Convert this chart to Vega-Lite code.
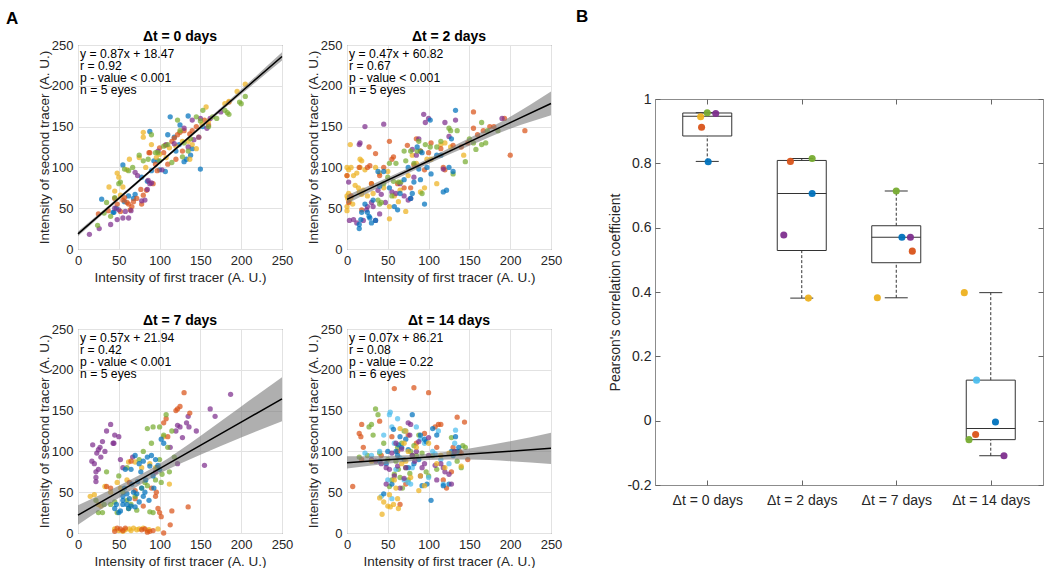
{
"$schema":"https://vega.github.io/schema/vega-lite/v6.json",
"padding":{"left":6,"top":7,"right":0,"bottom":0},
"config":{
 "font":"Liberation Sans",
 "view":{"stroke":"#595959","strokeWidth":1},
 "axis":{"labelFont":"Liberation Sans","labelFontSize":13,"labelColor":"#262626","titleFont":"Liberation Sans","titleFontSize":13.5,"titleFontWeight":"normal","titleColor":"#262626","domain":false,"ticks":false,"labelPadding":5,"titlePadding":3,"gridColor":"#e2e2e2","gridWidth":1,"labelFlush":false},
 "axisY":{"titlePadding":0},
 "title":{"font":"Liberation Sans","fontSize":14,"fontWeight":"bold","color":"#000000","offset":-5,"frame":"group"}
},
"datasets":{
"d0":[
{"x":29,"y":61,"eye":1},{"x":43,"y":45,"eye":1},{"x":44,"y":45,"eye":1},{"x":55,"y":103,"eye":1},{"x":62,"y":65,"eye":1},{"x":70,"y":67,"eye":1},{"x":78,"y":88,"eye":1},{"x":85,"y":83,"eye":1},{"x":88,"y":144,"eye":1},{"x":90,"y":96,"eye":1},{"x":93,"y":108,"eye":1},{"x":98,"y":108,"eye":1},{"x":100,"y":97,"eye":1},{"x":107,"y":95,"eye":1},{"x":110,"y":140,"eye":1},{"x":113,"y":162,"eye":1},{"x":118,"y":137,"eye":1},{"x":120,"y":120,"eye":1},{"x":124,"y":128,"eye":1},{"x":125,"y":152,"eye":1},{"x":130,"y":107,"eye":1},{"x":133,"y":110,"eye":1},{"x":135,"y":163,"eye":1},{"x":138,"y":115,"eye":1},{"x":140,"y":123,"eye":1},{"x":150,"y":98,"eye":1},{"x":153,"y":150,"eye":1},{"x":57,"y":58,"eye":1},{"x":47,"y":50,"eye":1},{"x":68,"y":62,"eye":1},
{"x":25,"y":43,"eye":2},{"x":37,"y":47,"eye":2},{"x":45,"y":62,"eye":2},{"x":48,"y":55,"eye":2},{"x":52,"y":46,"eye":2},{"x":55,"y":60,"eye":2},{"x":57,"y":63,"eye":2},{"x":60,"y":57,"eye":2},{"x":62,"y":55,"eye":2},{"x":64,"y":48,"eye":2},{"x":66,"y":52,"eye":2},{"x":68,"y":58,"eye":2},{"x":72,"y":62,"eye":2},{"x":77,"y":73,"eye":2},{"x":78,"y":55,"eye":2},{"x":80,"y":66,"eye":2},{"x":84,"y":72,"eye":2},{"x":87,"y":118,"eye":2},{"x":88,"y":118,"eye":2},{"x":92,"y":80,"eye":2},{"x":95,"y":104,"eye":2},{"x":97,"y":96,"eye":2},{"x":100,"y":124,"eye":2},{"x":105,"y":118,"eye":2},{"x":107,"y":127,"eye":2},{"x":110,"y":104,"eye":2},{"x":115,"y":132,"eye":2},{"x":118,"y":136,"eye":2},{"x":120,"y":110,"eye":2},{"x":122,"y":140,"eye":2},{"x":125,"y":143,"eye":2},{"x":128,"y":120,"eye":2},{"x":130,"y":145,"eye":2},{"x":137,"y":141,"eye":2},{"x":140,"y":145,"eye":2},{"x":145,"y":150,"eye":2},{"x":155,"y":158,"eye":2},{"x":160,"y":152,"eye":2},{"x":185,"y":180,"eye":2},
{"x":38,"y":76,"eye":3},{"x":45,"y":71,"eye":3},{"x":48,"y":93,"eye":3},{"x":50,"y":88,"eye":3},{"x":52,"y":66,"eye":3},{"x":55,"y":76,"eye":3},{"x":60,"y":97,"eye":3},{"x":63,"y":110,"eye":3},{"x":75,"y":112,"eye":3},{"x":80,"y":143,"eye":3},{"x":80,"y":137,"eye":3},{"x":83,"y":100,"eye":3},{"x":90,"y":128,"eye":3},{"x":96,"y":112,"eye":3},{"x":100,"y":116,"eye":3},{"x":108,"y":112,"eye":3},{"x":112,"y":124,"eye":3},{"x":120,"y":126,"eye":3},{"x":128,"y":132,"eye":3},{"x":135,"y":132,"eye":3},{"x":137,"y":110,"eye":3},{"x":140,"y":128,"eye":3},{"x":145,"y":123,"eye":3},{"x":148,"y":137,"eye":3},{"x":152,"y":153,"eye":3},{"x":157,"y":174,"eye":3},{"x":160,"y":157,"eye":3},{"x":180,"y":178,"eye":3},{"x":185,"y":181,"eye":3},{"x":195,"y":193,"eye":3},{"x":205,"y":202,"eye":3},
{"x":14,"y":18,"eye":4},{"x":26,"y":25,"eye":4},{"x":40,"y":30,"eye":4},{"x":45,"y":50,"eye":4},{"x":48,"y":36,"eye":4},{"x":50,"y":48,"eye":4},{"x":55,"y":38,"eye":4},{"x":58,"y":46,"eye":4},{"x":62,"y":38,"eye":4},{"x":65,"y":47,"eye":4},{"x":70,"y":94,"eye":4},{"x":73,"y":90,"eye":4},{"x":78,"y":59,"eye":4},{"x":82,"y":60,"eye":4},{"x":85,"y":73,"eye":4},{"x":86,"y":84,"eye":4},{"x":88,"y":80,"eye":4},{"x":90,"y":81,"eye":4},{"x":98,"y":120,"eye":4},{"x":103,"y":97,"eye":4},{"x":108,"y":128,"eye":4},{"x":118,"y":129,"eye":4},{"x":130,"y":148,"eye":4},{"x":135,"y":125,"eye":4},{"x":140,"y":158,"eye":4},{"x":142,"y":134,"eye":4},{"x":148,"y":137,"eye":4},{"x":150,"y":160,"eye":4},{"x":158,"y":148,"eye":4},{"x":162,"y":160,"eye":4},{"x":175,"y":168,"eye":4},
{"x":24,"y":29,"eye":5},{"x":32,"y":44,"eye":5},{"x":35,"y":57,"eye":5},{"x":40,"y":40,"eye":5},{"x":45,"y":63,"eye":5},{"x":50,"y":80,"eye":5},{"x":52,"y":82,"eye":5},{"x":57,"y":98,"eye":5},{"x":62,"y":96,"eye":5},{"x":67,"y":100,"eye":5},{"x":75,"y":115,"eye":5},{"x":80,"y":108,"eye":5},{"x":86,"y":110,"eye":5},{"x":90,"y":140,"eye":5},{"x":95,"y":118,"eye":5},{"x":98,"y":118,"eye":5},{"x":100,"y":108,"eye":5},{"x":105,"y":126,"eye":5},{"x":110,"y":128,"eye":5},{"x":115,"y":106,"eye":5},{"x":122,"y":158,"eye":5},{"x":125,"y":145,"eye":5},{"x":128,"y":113,"eye":5},{"x":130,"y":130,"eye":5},{"x":135,"y":120,"eye":5},{"x":138,"y":135,"eye":5},{"x":145,"y":162,"eye":5},{"x":150,"y":157,"eye":5},{"x":153,"y":170,"eye":5},{"x":160,"y":150,"eye":5},{"x":165,"y":162,"eye":5},{"x":170,"y":160,"eye":5},{"x":180,"y":170,"eye":5},{"x":183,"y":167,"eye":5},{"x":185,"y":165,"eye":5},{"x":198,"y":180,"eye":5},{"x":205,"y":187,"eye":5},{"x":200,"y":178,"eye":5}
],
"d2":[
{"x":0,"y":47,"eye":3},{"x":0,"y":52,"eye":3},{"x":1,"y":62,"eye":3},{"x":0,"y":65,"eye":3},{"x":2,"y":68,"eye":3},{"x":0,"y":90,"eye":3},{"x":0,"y":100,"eye":3},{"x":2,"y":97,"eye":3},{"x":3,"y":58,"eye":3},{"x":4,"y":128,"eye":3},{"x":5,"y":100,"eye":3},{"x":5,"y":63,"eye":3},{"x":7,"y":55,"eye":3},{"x":8,"y":90,"eye":3},{"x":10,"y":78,"eye":3},{"x":12,"y":93,"eye":3},{"x":14,"y":75,"eye":3},{"x":15,"y":70,"eye":3},{"x":16,"y":110,"eye":3},{"x":16,"y":100,"eye":3},{"x":18,"y":108,"eye":3},{"x":18,"y":67,"eye":3},{"x":20,"y":72,"eye":3},{"x":22,"y":97,"eye":3},{"x":25,"y":65,"eye":3},{"x":30,"y":80,"eye":3},{"x":32,"y":68,"eye":3},{"x":35,"y":100,"eye":3},{"x":40,"y":93,"eye":3},{"x":45,"y":75,"eye":3},{"x":50,"y":95,"eye":3},{"x":52,"y":52,"eye":3},{"x":52,"y":37,"eye":3},{"x":58,"y":65,"eye":3},{"x":63,"y":58,"eye":3},{"x":65,"y":72,"eye":3},{"x":72,"y":46,"eye":3},{"x":75,"y":90,"eye":3},{"x":80,"y":115,"eye":3},{"x":85,"y":105,"eye":3},{"x":90,"y":70,"eye":3},{"x":95,"y":75,"eye":3},{"x":98,"y":110,"eye":3},{"x":103,"y":110,"eye":3},{"x":110,"y":80,"eye":3},{"x":115,"y":128,"eye":3},{"x":120,"y":130,"eye":3},{"x":127,"y":125,"eye":3},{"x":143,"y":115,"eye":3},
{"x":0,"y":90,"eye":2},{"x":2,"y":57,"eye":2},{"x":5,"y":65,"eye":2},{"x":15,"y":100,"eye":2},{"x":18,"y":48,"eye":2},{"x":25,"y":100,"eye":2},{"x":27,"y":125,"eye":2},{"x":28,"y":102,"eye":2},{"x":30,"y":80,"eye":2},{"x":35,"y":117,"eye":2},{"x":40,"y":90,"eye":2},{"x":45,"y":100,"eye":2},{"x":52,"y":132,"eye":2},{"x":55,"y":110,"eye":2},{"x":57,"y":113,"eye":2},{"x":62,"y":80,"eye":2},{"x":70,"y":75,"eye":2},{"x":74,"y":127,"eye":2},{"x":78,"y":75,"eye":2},{"x":82,"y":103,"eye":2},{"x":85,"y":135,"eye":2},{"x":90,"y":120,"eye":2},{"x":95,"y":97,"eye":2},{"x":100,"y":118,"eye":2},{"x":103,"y":130,"eye":2},{"x":115,"y":123,"eye":2},{"x":118,"y":100,"eye":2},{"x":120,"y":97,"eye":2},{"x":130,"y":127,"eye":2},{"x":140,"y":125,"eye":2},{"x":148,"y":130,"eye":2},{"x":155,"y":168,"eye":2},{"x":155,"y":148,"eye":2},{"x":160,"y":140,"eye":2},{"x":167,"y":145,"eye":2},{"x":175,"y":150,"eye":2},{"x":193,"y":160,"eye":2},{"x":200,"y":115,"eye":2},{"x":218,"y":145,"eye":2},{"x":180,"y":150,"eye":2},
{"x":2,"y":82,"eye":4},{"x":3,"y":35,"eye":4},{"x":8,"y":36,"eye":4},{"x":12,"y":32,"eye":4},{"x":15,"y":128,"eye":4},{"x":16,"y":130,"eye":4},{"x":20,"y":35,"eye":4},{"x":22,"y":150,"eye":4},{"x":24,"y":48,"eye":4},{"x":25,"y":52,"eye":4},{"x":30,"y":57,"eye":4},{"x":32,"y":52,"eye":4},{"x":35,"y":35,"eye":4},{"x":38,"y":72,"eye":4},{"x":40,"y":43,"eye":4},{"x":42,"y":67,"eye":4},{"x":45,"y":153,"eye":4},{"x":47,"y":57,"eye":4},{"x":55,"y":70,"eye":4},{"x":60,"y":68,"eye":4},{"x":65,"y":80,"eye":4},{"x":70,"y":65,"eye":4},{"x":75,"y":60,"eye":4},{"x":78,"y":62,"eye":4},{"x":80,"y":122,"eye":4},{"x":82,"y":88,"eye":4},{"x":85,"y":115,"eye":4},{"x":88,"y":135,"eye":4},{"x":90,"y":120,"eye":4},{"x":94,"y":165,"eye":4},{"x":96,"y":155,"eye":4},{"x":100,"y":160,"eye":4},{"x":118,"y":98,"eye":4},{"x":120,"y":155,"eye":4},{"x":125,"y":138,"eye":4},{"x":133,"y":158,"eye":4},{"x":190,"y":160,"eye":4},
{"x":38,"y":60,"eye":5},{"x":40,"y":55,"eye":5},{"x":42,"y":57,"eye":5},{"x":45,"y":80,"eye":5},{"x":50,"y":88,"eye":5},{"x":52,"y":105,"eye":5},{"x":55,"y":65,"eye":5},{"x":57,"y":83,"eye":5},{"x":60,"y":105,"eye":5},{"x":63,"y":82,"eye":5},{"x":66,"y":82,"eye":5},{"x":70,"y":120,"eye":5},{"x":72,"y":108,"eye":5},{"x":78,"y":120,"eye":5},{"x":82,"y":105,"eye":5},{"x":86,"y":120,"eye":5},{"x":88,"y":132,"eye":5},{"x":90,"y":120,"eye":5},{"x":92,"y":68,"eye":5},{"x":96,"y":128,"eye":5},{"x":102,"y":125,"eye":5},{"x":110,"y":125,"eye":5},{"x":115,"y":132,"eye":5},{"x":125,"y":148,"eye":5},{"x":127,"y":145,"eye":5},{"x":130,"y":92,"eye":5},{"x":135,"y":145,"eye":5},{"x":145,"y":107,"eye":5},{"x":150,"y":135,"eye":5},{"x":155,"y":130,"eye":5},{"x":158,"y":122,"eye":5},{"x":165,"y":155,"eye":5},{"x":165,"y":128,"eye":5},{"x":170,"y":130,"eye":5},{"x":172,"y":145,"eye":5},{"x":185,"y":145,"eye":5},
{"x":15,"y":25,"eye":1},{"x":15,"y":30,"eye":1},{"x":17,"y":36,"eye":1},{"x":18,"y":45,"eye":1},{"x":22,"y":55,"eye":1},{"x":25,"y":45,"eye":1},{"x":27,"y":40,"eye":1},{"x":28,"y":38,"eye":1},{"x":30,"y":32,"eye":1},{"x":32,"y":60,"eye":1},{"x":35,"y":35,"eye":1},{"x":38,"y":95,"eye":1},{"x":40,"y":77,"eye":1},{"x":45,"y":95,"eye":1},{"x":52,"y":75,"eye":1},{"x":58,"y":52,"eye":1},{"x":62,"y":48,"eye":1},{"x":65,"y":68,"eye":1},{"x":70,"y":85,"eye":1},{"x":75,"y":100,"eye":1},{"x":78,"y":62,"eye":1},{"x":80,"y":68,"eye":1},{"x":82,"y":82,"eye":1},{"x":86,"y":125,"eye":1},{"x":88,"y":98,"eye":1},{"x":90,"y":85,"eye":1},{"x":92,"y":118,"eye":1},{"x":95,"y":55,"eye":1},{"x":98,"y":100,"eye":1},{"x":102,"y":158,"eye":1},{"x":103,"y":92,"eye":1},{"x":110,"y":115,"eye":1},{"x":115,"y":115,"eye":1},{"x":118,"y":70,"eye":1},{"x":122,"y":72,"eye":1},{"x":125,"y":100,"eye":1},{"x":130,"y":95,"eye":1},{"x":133,"y":170,"eye":1},{"x":128,"y":135,"eye":1}
],
"d7":[
{"x":17,"y":88,"eye":4},{"x":18,"y":108,"eye":4},{"x":20,"y":85,"eye":4},{"x":22,"y":75,"eye":4},{"x":22,"y":68,"eye":4},{"x":22,"y":63,"eye":4},{"x":23,"y":98,"eye":4},{"x":25,"y":102,"eye":4},{"x":25,"y":78,"eye":4},{"x":27,"y":105,"eye":4},{"x":28,"y":93,"eye":4},{"x":30,"y":112,"eye":4},{"x":33,"y":100,"eye":4},{"x":35,"y":125,"eye":4},{"x":40,"y":133,"eye":4},{"x":43,"y":110,"eye":4},{"x":44,"y":110,"eye":4},{"x":45,"y":120,"eye":4},{"x":50,"y":118,"eye":4},{"x":52,"y":90,"eye":4},{"x":55,"y":80,"eye":4},{"x":67,"y":93,"eye":4},{"x":95,"y":75,"eye":4},{"x":113,"y":105,"eye":4},{"x":120,"y":125,"eye":4},{"x":122,"y":132,"eye":4},{"x":125,"y":130,"eye":4},{"x":128,"y":117,"eye":4},{"x":122,"y":85,"eye":4},{"x":133,"y":135,"eye":4},{"x":135,"y":143,"eye":4},{"x":136,"y":130,"eye":4},{"x":145,"y":125,"eye":4},{"x":155,"y":83,"eye":4},{"x":162,"y":152,"eye":4},{"x":168,"y":143,"eye":4},{"x":187,"y":170,"eye":4},
{"x":15,"y":45,"eye":3},{"x":20,"y":47,"eye":3},{"x":25,"y":35,"eye":3},{"x":28,"y":33,"eye":3},{"x":33,"y":57,"eye":3},{"x":40,"y":50,"eye":3},{"x":45,"y":5,"eye":3},{"x":48,"y":62,"eye":3},{"x":50,"y":3,"eye":3},{"x":52,"y":55,"eye":3},{"x":55,"y":2,"eye":3},{"x":58,"y":4,"eye":3},{"x":60,"y":65,"eye":3},{"x":62,"y":87,"eye":3},{"x":63,"y":5,"eye":3},{"x":65,"y":3,"eye":3},{"x":68,"y":6,"eye":3},{"x":70,"y":87,"eye":3},{"x":72,"y":4,"eye":3},{"x":75,"y":5,"eye":3},{"x":78,"y":80,"eye":3},{"x":80,"y":6,"eye":3},{"x":85,"y":3,"eye":3},{"x":87,"y":4,"eye":3},{"x":88,"y":85,"eye":3},{"x":95,"y":80,"eye":3},{"x":98,"y":5,"eye":3},{"x":105,"y":118,"eye":3},{"x":112,"y":60,"eye":3},
{"x":35,"y":57,"eye":2},{"x":40,"y":55,"eye":2},{"x":45,"y":2,"eye":2},{"x":48,"y":6,"eye":2},{"x":52,"y":5,"eye":2},{"x":55,"y":3,"eye":2},{"x":58,"y":6,"eye":2},{"x":63,"y":62,"eye":2},{"x":65,"y":88,"eye":2},{"x":70,"y":42,"eye":2},{"x":78,"y":4,"eye":2},{"x":80,"y":33,"eye":2},{"x":82,"y":5,"eye":2},{"x":85,"y":1,"eye":2},{"x":88,"y":2,"eye":2},{"x":90,"y":55,"eye":2},{"x":92,"y":3,"eye":2},{"x":95,"y":45,"eye":2},{"x":96,"y":50,"eye":2},{"x":98,"y":30,"eye":2},{"x":100,"y":25,"eye":2},{"x":102,"y":20,"eye":2},{"x":105,"y":135,"eye":2},{"x":108,"y":140,"eye":2},{"x":110,"y":118,"eye":2},{"x":113,"y":10,"eye":2},{"x":115,"y":27,"eye":2},{"x":105,"y":0,"eye":2},{"x":120,"y":150,"eye":2},{"x":122,"y":152,"eye":2},{"x":125,"y":155,"eye":2},{"x":130,"y":172,"eye":2},{"x":137,"y":147,"eye":2},{"x":135,"y":32,"eye":2},{"x":70,"y":52,"eye":2},
{"x":22,"y":40,"eye":5},{"x":25,"y":25,"eye":5},{"x":30,"y":25,"eye":5},{"x":32,"y":35,"eye":5},{"x":35,"y":75,"eye":5},{"x":40,"y":35,"eye":5},{"x":45,"y":38,"eye":5},{"x":48,"y":25,"eye":5},{"x":50,"y":70,"eye":5},{"x":55,"y":50,"eye":5},{"x":60,"y":80,"eye":5},{"x":62,"y":30,"eye":5},{"x":65,"y":35,"eye":5},{"x":70,"y":45,"eye":5},{"x":72,"y":28,"eye":5},{"x":75,"y":90,"eye":5},{"x":78,"y":55,"eye":5},{"x":80,"y":100,"eye":5},{"x":82,"y":62,"eye":5},{"x":85,"y":128,"eye":5},{"x":85,"y":58,"eye":5},{"x":88,"y":26,"eye":5},{"x":90,"y":110,"eye":5},{"x":92,"y":130,"eye":5},{"x":95,"y":65,"eye":5},{"x":97,"y":80,"eye":5},{"x":100,"y":130,"eye":5},{"x":102,"y":62,"eye":5},{"x":103,"y":72,"eye":5},{"x":105,"y":120,"eye":5},{"x":108,"y":145,"eye":5},{"x":110,"y":105,"eye":5},{"x":112,"y":75,"eye":5},{"x":115,"y":125,"eye":5},{"x":118,"y":93,"eye":5},{"x":100,"y":90,"eye":5},{"x":92,"y":25,"eye":5},{"x":60,"y":40,"eye":5},
{"x":45,"y":30,"eye":1},{"x":47,"y":35,"eye":1},{"x":50,"y":25,"eye":1},{"x":52,"y":27,"eye":1},{"x":55,"y":35,"eye":1},{"x":55,"y":40,"eye":1},{"x":57,"y":55,"eye":1},{"x":58,"y":78,"eye":1},{"x":60,"y":35,"eye":1},{"x":62,"y":30,"eye":1},{"x":63,"y":42,"eye":1},{"x":65,"y":33,"eye":1},{"x":66,"y":60,"eye":1},{"x":68,"y":50,"eye":1},{"x":70,"y":95,"eye":1},{"x":70,"y":32,"eye":1},{"x":72,"y":48,"eye":1},{"x":73,"y":63,"eye":1},{"x":75,"y":85,"eye":1},{"x":77,"y":75,"eye":1},{"x":78,"y":55,"eye":1},{"x":80,"y":88,"eye":1},{"x":82,"y":50,"eye":1},{"x":83,"y":65,"eye":1},{"x":85,"y":93,"eye":1},{"x":87,"y":40,"eye":1},{"x":88,"y":82,"eye":1},{"x":90,"y":95,"eye":1},{"x":92,"y":70,"eye":1},{"x":93,"y":55,"eye":1},{"x":95,"y":90,"eye":1},{"x":98,"y":83,"eye":1},{"x":100,"y":78,"eye":1},{"x":102,"y":115,"eye":1},{"x":105,"y":110,"eye":1},{"x":60,"y":48,"eye":1},{"x":80,"y":45,"eye":1},{"x":75,"y":38,"eye":1},{"x":65,"y":78,"eye":1},{"x":55,"y":45,"eye":1}
],
"d14":[
{"x":7,"y":57,"eye":2},{"x":15,"y":122,"eye":2},{"x":17,"y":118,"eye":2},{"x":18,"y":90,"eye":2},{"x":18,"y":133,"eye":2},{"x":20,"y":105,"eye":2},{"x":40,"y":137,"eye":2},{"x":42,"y":95,"eye":2},{"x":55,"y":118,"eye":2},{"x":58,"y":177,"eye":2},{"x":62,"y":100,"eye":2},{"x":75,"y":120,"eye":2},{"x":82,"y":178,"eye":2},{"x":85,"y":110,"eye":2},{"x":95,"y":122,"eye":2},{"x":100,"y":172,"eye":2},{"x":108,"y":130,"eye":2},{"x":110,"y":105,"eye":2},{"x":112,"y":133,"eye":2},{"x":115,"y":133,"eye":2},{"x":118,"y":65,"eye":2},{"x":122,"y":55,"eye":2},{"x":128,"y":75,"eye":2},{"x":135,"y":142,"eye":2},{"x":138,"y":100,"eye":2},{"x":140,"y":98,"eye":2},{"x":144,"y":136,"eye":2},{"x":148,"y":90,"eye":2},{"x":130,"y":105,"eye":2},{"x":72,"y":60,"eye":2},{"x":65,"y":35,"eye":2},
{"x":15,"y":93,"eye":5},{"x":25,"y":95,"eye":5},{"x":27,"y":130,"eye":5},{"x":30,"y":133,"eye":5},{"x":32,"y":120,"eye":5},{"x":35,"y":152,"eye":5},{"x":38,"y":145,"eye":5},{"x":40,"y":98,"eye":5},{"x":45,"y":110,"eye":5},{"x":50,"y":90,"eye":5},{"x":52,"y":57,"eye":5},{"x":55,"y":65,"eye":5},{"x":58,"y":72,"eye":5},{"x":60,"y":88,"eye":5},{"x":62,"y":105,"eye":5},{"x":63,"y":78,"eye":5},{"x":65,"y":68,"eye":5},{"x":67,"y":110,"eye":5},{"x":70,"y":125,"eye":5},{"x":72,"y":80,"eye":5},{"x":75,"y":65,"eye":5},{"x":78,"y":100,"eye":5},{"x":80,"y":95,"eye":5},{"x":82,"y":107,"eye":5},{"x":85,"y":95,"eye":5},{"x":88,"y":120,"eye":5},{"x":92,"y":98,"eye":5},{"x":97,"y":75,"eye":5},{"x":100,"y":70,"eye":5},{"x":105,"y":95,"eye":5},{"x":110,"y":78,"eye":5},{"x":128,"y":117,"eye":5},{"x":132,"y":100,"eye":5},{"x":135,"y":88,"eye":5},{"x":140,"y":80,"eye":5},{"x":142,"y":107,"eye":5},{"x":145,"y":105,"eye":5},{"x":77,"y":73,"eye":5},{"x":68,"y":55,"eye":5},
{"x":22,"y":98,"eye":6},{"x":30,"y":95,"eye":6},{"x":40,"y":100,"eye":6},{"x":45,"y":120,"eye":6},{"x":50,"y":65,"eye":6},{"x":52,"y":145,"eye":6},{"x":53,"y":148,"eye":6},{"x":55,"y":130,"eye":6},{"x":58,"y":110,"eye":6},{"x":60,"y":78,"eye":6},{"x":62,"y":140,"eye":6},{"x":65,"y":92,"eye":6},{"x":70,"y":65,"eye":6},{"x":72,"y":125,"eye":6},{"x":75,"y":62,"eye":6},{"x":78,"y":60,"eye":6},{"x":80,"y":80,"eye":6},{"x":85,"y":130,"eye":6},{"x":90,"y":115,"eye":6},{"x":95,"y":110,"eye":6},{"x":100,"y":68,"eye":6},{"x":105,"y":100,"eye":6},{"x":108,"y":97,"eye":6},{"x":112,"y":125,"eye":6},{"x":115,"y":90,"eye":6},{"x":118,"y":60,"eye":6},{"x":125,"y":85,"eye":6},{"x":133,"y":126,"eye":6},{"x":132,"y":110,"eye":6},{"x":42,"y":45,"eye":6},{"x":55,"y":42,"eye":6},
{"x":45,"y":48,"eye":1},{"x":48,"y":85,"eye":1},{"x":50,"y":100,"eye":1},{"x":55,"y":60,"eye":1},{"x":57,"y":127,"eye":1},{"x":60,"y":100,"eye":1},{"x":62,"y":95,"eye":1},{"x":63,"y":108,"eye":1},{"x":65,"y":118,"eye":1},{"x":67,"y":105,"eye":1},{"x":70,"y":90,"eye":1},{"x":72,"y":115,"eye":1},{"x":75,"y":80,"eye":1},{"x":80,"y":145,"eye":1},{"x":82,"y":85,"eye":1},{"x":88,"y":90,"eye":1},{"x":90,"y":120,"eye":1},{"x":92,"y":58,"eye":1},{"x":95,"y":115,"eye":1},{"x":97,"y":112,"eye":1},{"x":98,"y":60,"eye":1},{"x":103,"y":40,"eye":1},{"x":105,"y":128,"eye":1},{"x":110,"y":120,"eye":1},{"x":118,"y":58,"eye":1},{"x":125,"y":60,"eye":1},{"x":128,"y":100,"eye":1},{"x":130,"y":95,"eye":1},{"x":133,"y":118,"eye":1},{"x":135,"y":100,"eye":1},{"x":137,"y":105,"eye":1},{"x":40,"y":88,"eye":1},{"x":75,"y":102,"eye":1},
{"x":30,"y":90,"eye":4},{"x":35,"y":88,"eye":4},{"x":42,"y":85,"eye":4},{"x":48,"y":80,"eye":4},{"x":52,"y":78,"eye":4},{"x":55,"y":98,"eye":4},{"x":58,"y":70,"eye":4},{"x":60,"y":110,"eye":4},{"x":62,"y":82,"eye":4},{"x":65,"y":55,"eye":4},{"x":67,"y":103,"eye":4},{"x":70,"y":67,"eye":4},{"x":72,"y":80,"eye":4},{"x":75,"y":135,"eye":4},{"x":77,"y":120,"eye":4},{"x":78,"y":133,"eye":4},{"x":80,"y":95,"eye":4},{"x":83,"y":88,"eye":4},{"x":85,"y":100,"eye":4},{"x":88,"y":112,"eye":4},{"x":90,"y":70,"eye":4},{"x":92,"y":80,"eye":4},{"x":95,"y":85,"eye":4},{"x":100,"y":95,"eye":4},{"x":108,"y":83,"eye":4},{"x":110,"y":65,"eye":4},{"x":115,"y":85,"eye":4},{"x":118,"y":80,"eye":4},{"x":120,"y":75,"eye":4},{"x":125,"y":72,"eye":4},{"x":128,"y":60,"eye":4},{"x":132,"y":100,"eye":4},{"x":100,"y":117,"eye":4},{"x":48,"y":60,"eye":4},
{"x":30,"y":88,"eye":3},{"x":40,"y":43,"eye":3},{"x":43,"y":23,"eye":3},{"x":45,"y":38,"eye":3},{"x":50,"y":33,"eye":3},{"x":52,"y":47,"eye":3},{"x":53,"y":32,"eye":3},{"x":57,"y":35,"eye":3},{"x":58,"y":65,"eye":3},{"x":60,"y":55,"eye":3},{"x":62,"y":42,"eye":3},{"x":63,"y":30,"eye":3},{"x":65,"y":128,"eye":3},{"x":67,"y":85,"eye":3},{"x":70,"y":110,"eye":3},{"x":72,"y":125,"eye":3},{"x":75,"y":100,"eye":3},{"x":78,"y":68,"eye":3},{"x":85,"y":105,"eye":3},{"x":88,"y":52,"eye":3},{"x":90,"y":70,"eye":3},{"x":95,"y":58,"eye":3},{"x":100,"y":110,"eye":3},{"x":110,"y":85,"eye":3},{"x":115,"y":95,"eye":3},{"x":120,"y":80,"eye":3},{"x":125,"y":98,"eye":3},{"x":140,"y":82,"eye":3},{"x":72,"y":88,"eye":3}
],
"fit":[
{"panel":0,"x":0,"fit":18.47,"lo":15.5,"hi":21.5},{"panel":0,"x":50,"fit":61.97,"lo":60,"hi":64},{"panel":0,"x":100,"fit":105.47,"lo":104,"hi":107},{"panel":0,"x":150,"fit":148.97,"lo":147,"hi":151},{"panel":0,"x":200,"fit":192.47,"lo":189.5,"hi":195.5},{"panel":0,"x":250,"fit":235.97,"lo":231,"hi":241},
{"panel":2,"x":0,"fit":60.82,"lo":55.5,"hi":66},{"panel":2,"x":50,"fit":84.32,"lo":81,"hi":87.5},{"panel":2,"x":100,"fit":107.82,"lo":104.5,"hi":111},{"panel":2,"x":150,"fit":131.32,"lo":126.5,"hi":136},{"panel":2,"x":200,"fit":154.82,"lo":147.5,"hi":162},{"panel":2,"x":250,"fit":178.32,"lo":164,"hi":193},
{"panel":7,"x":0,"fit":21.94,"lo":10,"hi":34},{"panel":7,"x":50,"fit":50.44,"lo":43,"hi":58},{"panel":7,"x":100,"fit":78.94,"lo":73,"hi":85},{"panel":7,"x":150,"fit":107.44,"lo":96,"hi":119},{"panel":7,"x":200,"fit":135.94,"lo":117,"hi":155},{"panel":7,"x":250,"fit":164.44,"lo":137,"hi":191},
{"panel":14,"x":0,"fit":86.21,"lo":79,"hi":94},{"panel":14,"x":50,"fit":89.71,"lo":85,"hi":94.5},{"panel":14,"x":100,"fit":93.21,"lo":89.5,"hi":97},{"panel":14,"x":150,"fit":96.71,"lo":90,"hi":103.5},{"panel":14,"x":200,"fit":100.21,"lo":88,"hi":112.5},{"panel":14,"x":250,"fit":103.71,"lo":84.5,"hi":123}
],
"stats":[
{"panel":0,"txt":["y = 0.87x + 18.47","r = 0.92","p - value < 0.001","n = 5 eyes"]},
{"panel":2,"txt":["y = 0.47x + 60.82","r = 0.67","p - value < 0.001","n = 5 eyes"]},
{"panel":7,"txt":["y = 0.57x + 21.94","r = 0.42","p - value < 0.001","n = 5 eyes"]},
{"panel":14,"txt":["y = 0.07x + 86.21","r = 0.08","p - value = 0.22","n = 6 eyes"]}
],
"box":[
{"g":1,"lo":0.806,"q1":0.885,"med":0.946,"q3":0.9565,"hi":0.9575},
{"g":2,"lo":0.381,"q1":0.529,"med":0.706,"q3":0.809,"hi":0.815},
{"g":3,"lo":0.382,"q1":0.491,"med":0.57,"q3":0.606,"hi":0.714},
{"g":4,"lo":-0.109,"q1":-0.059,"med":-0.024,"q3":0.126,"hi":0.398}
],
"r":[
{"g":0.93,"r":0.945,"eye":3},{"g":1.0,"r":0.957,"eye":5},{"g":1.09,"r":0.955,"eye":4},{"g":0.94,"r":0.912,"eye":2},{"g":1.01,"r":0.805,"eye":1},
{"g":1.88,"r":0.806,"eye":2},{"g":2.11,"r":0.815,"eye":5},{"g":2.11,"r":0.706,"eye":1},{"g":1.81,"r":0.577,"eye":4},{"g":2.07,"r":0.381,"eye":3},
{"g":3.0,"r":0.714,"eye":5},{"g":3.06,"r":0.57,"eye":1},{"g":3.15,"r":0.57,"eye":4},{"g":3.17,"r":0.527,"eye":2},{"g":2.8,"r":0.382,"eye":3},
{"g":3.72,"r":0.398,"eye":3},{"g":3.85,"r":0.126,"eye":6},{"g":4.05,"r":-0.004,"eye":1},{"g":3.84,"r":-0.043,"eye":2},{"g":3.77,"r":-0.059,"eye":5},{"g":4.14,"r":-0.109,"eye":4}
]
},
"hconcat":[
{"vconcat":[
 {"hconcat":[
  {"width":204,"height":204,"title":"Δt = 0 days",
   "layer":[
    {"data":{"name":"d0"},"mark":{"type":"circle","size":28,"opacity":0.72},"encoding":{"x":{"field":"x","type":"quantitative","title":"Intensity of first tracer (A. U.)","scale":{"domain":[0,250],"nice":false},"axis":{"values":[0,50,100,150,200,250]}},"y":{"field":"y","type":"quantitative","title":"Intensity of second tracer (A. U.)","scale":{"domain":[0,250],"nice":false},"axis":{"values":[0,50,100,150,200,250]}},"color":{"field":"eye","type":"nominal","scale":{"domain":[1,2,3,4,5,6],"range":["#0072BD","#D95319","#EDB120","#7E2F8E","#77AC30","#4DBEEE"]},"legend":null}}},
    {"data":{"name":"fit"},"transform":[{"filter":"datum.panel == 0"}],"mark":{"type":"area","color":"#7a7a7a","opacity":0.6,"interpolate":"monotone"},"encoding":{"x":{"field":"x","type":"quantitative","title":"Intensity of first tracer (A. U.)"},"y":{"field":"lo","type":"quantitative","title":"Intensity of second tracer (A. U.)"},"y2":{"field":"hi"}}},
    {"data":{"name":"fit"},"transform":[{"filter":"datum.panel == 0"}],"mark":{"type":"line","color":"#000000","strokeWidth":1.5},"encoding":{"x":{"field":"x","type":"quantitative","title":"Intensity of first tracer (A. U.)"},"y":{"field":"fit","type":"quantitative","title":"Intensity of second tracer (A. U.)"}}},
    {"data":{"name":"stats"},"transform":[{"filter":"datum.panel == 0"}],"mark":{"type":"text","align":"left","baseline":"top","fontSize":12.2,"lineHeight":12,"color":"#000000"},"encoding":{"x":{"datum":2.5},"y":{"datum":246.5},"text":{"field":"txt"}}}
   ]},
  {"width":204,"height":204,"title":"Δt = 2 days",
   "layer":[
    {"data":{"name":"d2"},"mark":{"type":"circle","size":28,"opacity":0.72},"encoding":{"x":{"field":"x","type":"quantitative","title":"Intensity of first tracer (A. U.)","scale":{"domain":[0,250],"nice":false},"axis":{"values":[0,50,100,150,200,250]}},"y":{"field":"y","type":"quantitative","title":"Intensity of second tracer (A. U.)","scale":{"domain":[0,250],"nice":false},"axis":{"values":[0,50,100,150,200,250]}},"color":{"field":"eye","type":"nominal","scale":{"domain":[1,2,3,4,5,6],"range":["#0072BD","#D95319","#EDB120","#7E2F8E","#77AC30","#4DBEEE"]},"legend":null}}},
    {"data":{"name":"fit"},"transform":[{"filter":"datum.panel == 2"}],"mark":{"type":"area","color":"#7a7a7a","opacity":0.6,"interpolate":"monotone"},"encoding":{"x":{"field":"x","type":"quantitative","title":"Intensity of first tracer (A. U.)"},"y":{"field":"lo","type":"quantitative","title":"Intensity of second tracer (A. U.)"},"y2":{"field":"hi"}}},
    {"data":{"name":"fit"},"transform":[{"filter":"datum.panel == 2"}],"mark":{"type":"line","color":"#000000","strokeWidth":1.5},"encoding":{"x":{"field":"x","type":"quantitative","title":"Intensity of first tracer (A. U.)"},"y":{"field":"fit","type":"quantitative","title":"Intensity of second tracer (A. U.)"}}},
    {"data":{"name":"stats"},"transform":[{"filter":"datum.panel == 2"}],"mark":{"type":"text","align":"left","baseline":"top","fontSize":12.2,"lineHeight":12,"color":"#000000"},"encoding":{"x":{"datum":2.5},"y":{"datum":246.5},"text":{"field":"txt"}}}
   ]}
 ],"spacing":65,"bounds":"flush"},
 {"hconcat":[
  {"width":204,"height":204,"title":"Δt = 7 days",
   "layer":[
    {"data":{"name":"d7"},"mark":{"type":"circle","size":28,"opacity":0.72},"encoding":{"x":{"field":"x","type":"quantitative","title":"Intensity of first tracer (A. U.)","scale":{"domain":[0,250],"nice":false},"axis":{"values":[0,50,100,150,200,250]}},"y":{"field":"y","type":"quantitative","title":"Intensity of second tracer (A. U.)","scale":{"domain":[0,250],"nice":false},"axis":{"values":[0,50,100,150,200,250]}},"color":{"field":"eye","type":"nominal","scale":{"domain":[1,2,3,4,5,6],"range":["#0072BD","#D95319","#EDB120","#7E2F8E","#77AC30","#4DBEEE"]},"legend":null}}},
    {"data":{"name":"fit"},"transform":[{"filter":"datum.panel == 7"}],"mark":{"type":"area","color":"#7a7a7a","opacity":0.6,"interpolate":"monotone"},"encoding":{"x":{"field":"x","type":"quantitative","title":"Intensity of first tracer (A. U.)"},"y":{"field":"lo","type":"quantitative","title":"Intensity of second tracer (A. U.)"},"y2":{"field":"hi"}}},
    {"data":{"name":"fit"},"transform":[{"filter":"datum.panel == 7"}],"mark":{"type":"line","color":"#000000","strokeWidth":1.5},"encoding":{"x":{"field":"x","type":"quantitative","title":"Intensity of first tracer (A. U.)"},"y":{"field":"fit","type":"quantitative","title":"Intensity of second tracer (A. U.)"}}},
    {"data":{"name":"stats"},"transform":[{"filter":"datum.panel == 7"}],"mark":{"type":"text","align":"left","baseline":"top","fontSize":12.2,"lineHeight":12,"color":"#000000"},"encoding":{"x":{"datum":2.5},"y":{"datum":246.5},"text":{"field":"txt"}}}
   ]},
  {"width":204,"height":204,"title":"Δt = 14 days",
   "layer":[
    {"data":{"name":"d14"},"mark":{"type":"circle","size":28,"opacity":0.72},"encoding":{"x":{"field":"x","type":"quantitative","title":"Intensity of first tracer (A. U.)","scale":{"domain":[0,250],"nice":false},"axis":{"values":[0,50,100,150,200,250]}},"y":{"field":"y","type":"quantitative","title":"Intensity of second tracer (A. U.)","scale":{"domain":[0,250],"nice":false},"axis":{"values":[0,50,100,150,200,250]}},"color":{"field":"eye","type":"nominal","scale":{"domain":[1,2,3,4,5,6],"range":["#0072BD","#D95319","#EDB120","#7E2F8E","#77AC30","#4DBEEE"]},"legend":null}}},
    {"data":{"name":"fit"},"transform":[{"filter":"datum.panel == 14"}],"mark":{"type":"area","color":"#7a7a7a","opacity":0.6,"interpolate":"monotone"},"encoding":{"x":{"field":"x","type":"quantitative","title":"Intensity of first tracer (A. U.)"},"y":{"field":"lo","type":"quantitative","title":"Intensity of second tracer (A. U.)"},"y2":{"field":"hi"}}},
    {"data":{"name":"fit"},"transform":[{"filter":"datum.panel == 14"}],"mark":{"type":"line","color":"#000000","strokeWidth":1.5},"encoding":{"x":{"field":"x","type":"quantitative","title":"Intensity of first tracer (A. U.)"},"y":{"field":"fit","type":"quantitative","title":"Intensity of second tracer (A. U.)"}}},
    {"data":{"name":"stats"},"transform":[{"filter":"datum.panel == 14"}],"mark":{"type":"text","align":"left","baseline":"top","fontSize":12.2,"lineHeight":12,"color":"#000000"},"encoding":{"x":{"datum":2.5},"y":{"datum":246.5},"text":{"field":"txt"}}}
   ]}
 ],"spacing":65,"bounds":"flush"}
],"spacing":29,
"title":{"text":"A","anchor":"start","frame":"group","dx":-72,"fontSize":17,"fontWeight":"bold","offset":2}},
{"vconcat":[
 {"width":388,"height":1,"view":{"stroke":null},
  "title":{"text":"B","anchor":"start","frame":"group","dx":-79,"fontSize":17,"fontWeight":"bold","offset":14},
  "data":{"values":[{}]},"mark":{"type":"text"},"encoding":{"text":{"value":""}}},
 {"width":388,"height":386,
  "view":{"stroke":"#8c8c8c"},
  "resolve":{"axis":{"x":"independent","y":"independent"}},
  "layer":[
   {"encoding":{"x":{"field":"g","type":"quantitative","title":null,"scale":{"domain":[0.5,4.5],"nice":false,"zero":false},"axis":{"values":[1,2,3,4],"grid":false,"labelExpr":"datum.value == 1 ? 'Δt = 0 days' : datum.value == 2 ? 'Δt = 2 days' : datum.value == 3 ? 'Δt = 7 days' : 'Δt = 14 days'","labelFontSize":14,"ticks":true,"tickSize":-5,"tickColor":"#666666","labelPadding":13}}},
    "layer":[
     {"data":{"name":"box"},"mark":{"type":"rule","color":"#333333","strokeDash":[3,2],"strokeWidth":1},"encoding":{"y":{"field":"lo","type":"quantitative","title":"Pearson's correlation coefficient","scale":{"domain":[-0.2,1],"nice":false,"zero":false},"axis":{"values":[-0.2,0,0.2,0.4,0.6,0.8,1],"format":"~g","labelExpr":"replace(datum.label,'−','-')","grid":false,"labelFontSize":14,"titleFontSize":14,"ticks":true,"tickSize":-5,"tickColor":"#666666","labelPadding":9,"titlePadding":4}},"y2":{"field":"q1"}}},
     {"data":{"name":"box"},"mark":{"type":"rule","color":"#333333","strokeDash":[3,2],"strokeWidth":1},"encoding":{"y":{"field":"q3","type":"quantitative","title":"Pearson's correlation coefficient"},"y2":{"field":"hi"}}},
     {"data":{"name":"box"},"mark":{"type":"bar","orient":"vertical","size":49,"fill":"#ffffff","stroke":"#333333","strokeWidth":1},"encoding":{"y":{"field":"q1","type":"quantitative","title":"Pearson's correlation coefficient"},"y2":{"field":"q3"}}},
     {"data":{"name":"box"},"mark":{"type":"tick","orient":"horizontal","size":49,"thickness":1,"color":"#333333","opacity":1},"encoding":{"y":{"field":"med","type":"quantitative","title":"Pearson's correlation coefficient"}}},
     {"data":{"name":"box"},"mark":{"type":"tick","orient":"horizontal","size":23,"thickness":1,"color":"#333333","opacity":1},"encoding":{"y":{"field":"lo","type":"quantitative","title":"Pearson's correlation coefficient"}}},
     {"data":{"name":"box"},"mark":{"type":"tick","orient":"horizontal","size":23,"thickness":1,"color":"#333333","opacity":1},"encoding":{"y":{"field":"hi","type":"quantitative","title":"Pearson's correlation coefficient"}}},
     {"data":{"name":"r"},"mark":{"type":"circle","size":50,"opacity":0.95},"encoding":{"y":{"field":"r","type":"quantitative","title":"Pearson's correlation coefficient"},"color":{"field":"eye","type":"nominal","scale":{"domain":[1,2,3,4,5,6],"range":["#0072BD","#D95319","#EDB120","#7E2F8E","#77AC30","#4DBEEE"]},"legend":null}}}
    ]},
   {"data":{"name":"r"},"mark":{"type":"circle","opacity":0},
    "encoding":{"x":{"field":"g","type":"quantitative","axis":{"orient":"top","values":[1,2,3,4],"labels":false,"title":null,"grid":false,"ticks":true,"tickSize":-5,"tickColor":"#666666"}},
                "y":{"field":"r","type":"quantitative","axis":{"orient":"right","values":[-0.2,0,0.2,0.4,0.6,0.8,1],"labels":false,"title":null,"grid":false,"ticks":true,"tickSize":-5,"tickColor":"#666666"}}}}
  ]}
],"spacing":40}
],
"spacing":13
}
